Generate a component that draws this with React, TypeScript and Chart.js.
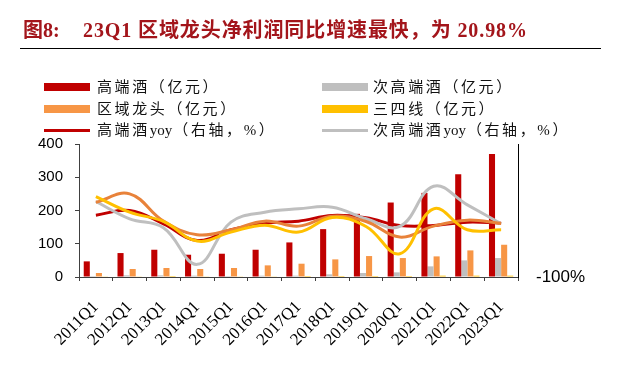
import React, { useEffect, useRef } from "react";
import { Chart, registerables } from "chart.js";

Chart.register(...registerables);

const categories = ["2011Q1","2012Q1","2013Q1","2014Q1","2015Q1","2016Q1","2017Q1","2018Q1","2019Q1","2020Q1","2021Q1","2022Q1","2023Q1"];

// 净利润（亿元）
const highEnd = [47, 72, 82, 67, 70, 82, 104, 144, 190, 224, 253, 309, 370];
const subHighEnd = [3, 5, 5, 4, 3, 4, 4, 8, 12, 14, 32, 50, 57];
const regional = [12, 24, 27, 24, 27, 35, 40, 53, 63, 57, 62, 80, 97];
const lowTier = [2, 2, 3, 2, 2, 2, 3, 3, 3, 3, 4, 4, 4];

// 同比（右轴，%）
const highEndYoy = [86, 100, 60, 10, 42, 62, 68, 85, 78, 55, 55, 65, 62];
const subHighEndYoy = [127, 75, 48, -62, 65, 95, 105, 110, 75, 52, 173, 117, 60];
const regionalYoy = [125, 150, 68, 27, 42, 68, 53, 83, 67, 20, 53, 71, 61];
const lowTierYoy = [142, 95, 67, 8, 35, 56, 35, 79, 52, -30, 105, 42, 42];

const leftTicks = [0, 100, 200, 300, 400];
const rightTicks = [-100];

const RED = "#C00000";
const GRAY = "#BFBFBF";
const ORANGE = "#F79646";
const ORANGE_LINE = "#E8823A";
const YELLOW = "#FFC000";

const legendItems = [
  { label: "高端酒（亿元）", color: RED, kind: "bar", col: 0, row: 0 },
  { label: "次高端酒（亿元）", color: GRAY, kind: "bar", col: 1, row: 0 },
  { label: "区域龙头（亿元）", color: ORANGE, kind: "bar", col: 0, row: 1 },
  { label: "三四线（亿元）", color: YELLOW, kind: "bar", col: 1, row: 1 },
  { label: "高端酒yoy（右轴，%）", color: RED, kind: "line", col: 0, row: 2 },
  { label: "次高端酒yoy（右轴，%）", color: GRAY, kind: "line", col: 1, row: 2 },
];

function renderLabel(text: string) {
  // keep Latin "yoy" compact, CJK spaced
  const parts = text.split(/(yoy)/);
  return parts.map((p, i) =>
    p === "yoy" ? (
      <span key={i} style={{ letterSpacing: "0px", marginRight: 1 }}>{p}</span>
    ) : (
      <span key={i}>{p}</span>
    )
  );
}

export default function App() {
  const ref = useRef<HTMLCanvasElement | null>(null);

  useEffect(() => {
    if (!ref.current) return;
    const lineDs = (label: string, data: number[], color: string) => ({
      type: "line" as const,
      label,
      data,
      yAxisID: "y1",
      borderColor: color,
      backgroundColor: color,
      borderWidth: 3,
      pointRadius: 0,
      tension: 0.4,
      fill: false,
      order: 0,
    });
    const barDs = (label: string, data: number[], color: string) => ({
      type: "bar" as const,
      label,
      data,
      yAxisID: "y",
      backgroundColor: color,
      borderWidth: 0,
      categoryPercentage: 0.72,
      barPercentage: 1,
      order: 1,
    });
    const chart = new Chart(ref.current, {
      type: "bar",
      data: {
        labels: categories,
        datasets: [
          lineDs("三四线yoy", lowTierYoy, YELLOW),
          lineDs("区域龙头yoy", regionalYoy, ORANGE_LINE),
          lineDs("次高端酒yoy", subHighEndYoy, GRAY),
          lineDs("高端酒yoy", highEndYoy, RED),
          barDs("高端酒", highEnd, RED),
          barDs("次高端酒", subHighEnd, GRAY),
          barDs("区域龙头", regional, ORANGE),
          barDs("三四线", lowTier, YELLOW),
        ] as any,
      },
      options: {
        responsive: false,
        animation: false,
        layout: { padding: { top: 144, left: 0, right: 0, bottom: 0 } },
        plugins: { legend: { display: false }, tooltip: { enabled: false }, title: { display: false } },
        scales: {
          x: {
            offset: true,
            grid: { display: true, drawOnChartArea: false, drawTicks: true, tickLength: 4, color: "#404040", offset: true },
            border: { display: true, color: "#404040", width: 1 },
            ticks: {
              color: "#000",
              font: { family: "'Liberation Serif', 'Times New Roman', serif", size: 17 },
              maxRotation: 45,
              minRotation: 45,
              padding: 16,
              autoSkip: false,
            },
            afterFit: (s: any) => { s.height = 93; },
          },
          y: {
            position: "left",
            min: 0,
            max: 400,
            afterBuildTicks: (s: any) => { s.ticks = leftTicks.map((v) => ({ value: v })); },
            grid: { display: true, drawOnChartArea: false, drawTicks: true, tickLength: 4, color: "#404040" },
            border: { display: true, color: "#404040", width: 1 },
            ticks: {
              color: "#000",
              font: { family: "'Liberation Sans', Arial, sans-serif", size: 15 },
              padding: 12,
            },
            afterFit: (s: any) => { s.width = 79; },
          },
          y1: {
            position: "right",
            min: -100,
            max: 300,
            afterBuildTicks: (s: any) => { s.ticks = rightTicks.map((v) => ({ value: v })); },
            grid: { display: false },
            border: { display: true, color: "#000", width: 1 },
            ticks: {
              color: "#000",
              font: { family: "'Liberation Sans', Arial, sans-serif", size: 17 },
              padding: 10,
              callback: (v: any) => `${v}%`,
            },
            afterFit: (s: any) => { s.width = 122; },
          },
        },
      } as any,
    });
    return () => chart.destroy();
  }, []);

  const textFont = "'Liberation Serif', 'Noto Sans CJK SC', serif";

  return (
    <div style={{ position: "absolute", left: 0, top: 0, width: 640, height: 370, background: "#fff", overflow: "hidden" }}>
      <canvas ref={ref} width={640} height={370} style={{ position: "absolute", left: 0, top: 0, width: 640, height: 370 }} />
      <div style={{ position: "absolute", left: 23, top: 18, height: 24, lineHeight: "24px", fontFamily: textFont, fontWeight: 700, fontSize: 20, color: "#A3151B", whiteSpace: "nowrap" }}>图8:</div>
      <div style={{ position: "absolute", left: 83, top: 18, height: 24, lineHeight: "24px", fontFamily: textFont, fontWeight: 700, fontSize: 20, letterSpacing: "0.9px", color: "#A3151B", whiteSpace: "nowrap" }}>23Q1 区域龙头净利润同比增速最快，为 20.98%</div>
      <div style={{ position: "absolute", left: 20, top: 48, width: 581, height: 1, background: "#000" }} />
      {legendItems.map((it, i) => {
        const cy = [87, 108.5, 130][it.row];
        const sx = it.col === 0 ? 44 : 322;
        const tx = it.col === 0 ? 97 : 373;
        return (
          <React.Fragment key={i}>
            {it.kind === "bar" ? (
              <div style={{ position: "absolute", left: sx, top: cy - 4, width: 46, height: 8, background: it.color }} />
            ) : (
              <div style={{ position: "absolute", left: sx, top: cy - 1.5, width: 46, height: 3, background: it.color }} />
            )}
            <div style={{ position: "absolute", left: tx, top: cy - 10, height: 20, lineHeight: "20px", fontFamily: textFont, fontSize: 15, letterSpacing: "2.6px", color: "#111", whiteSpace: "nowrap" }}>{renderLabel(it.label)}</div>
          </React.Fragment>
        );
      })}
    </div>
  );
}
